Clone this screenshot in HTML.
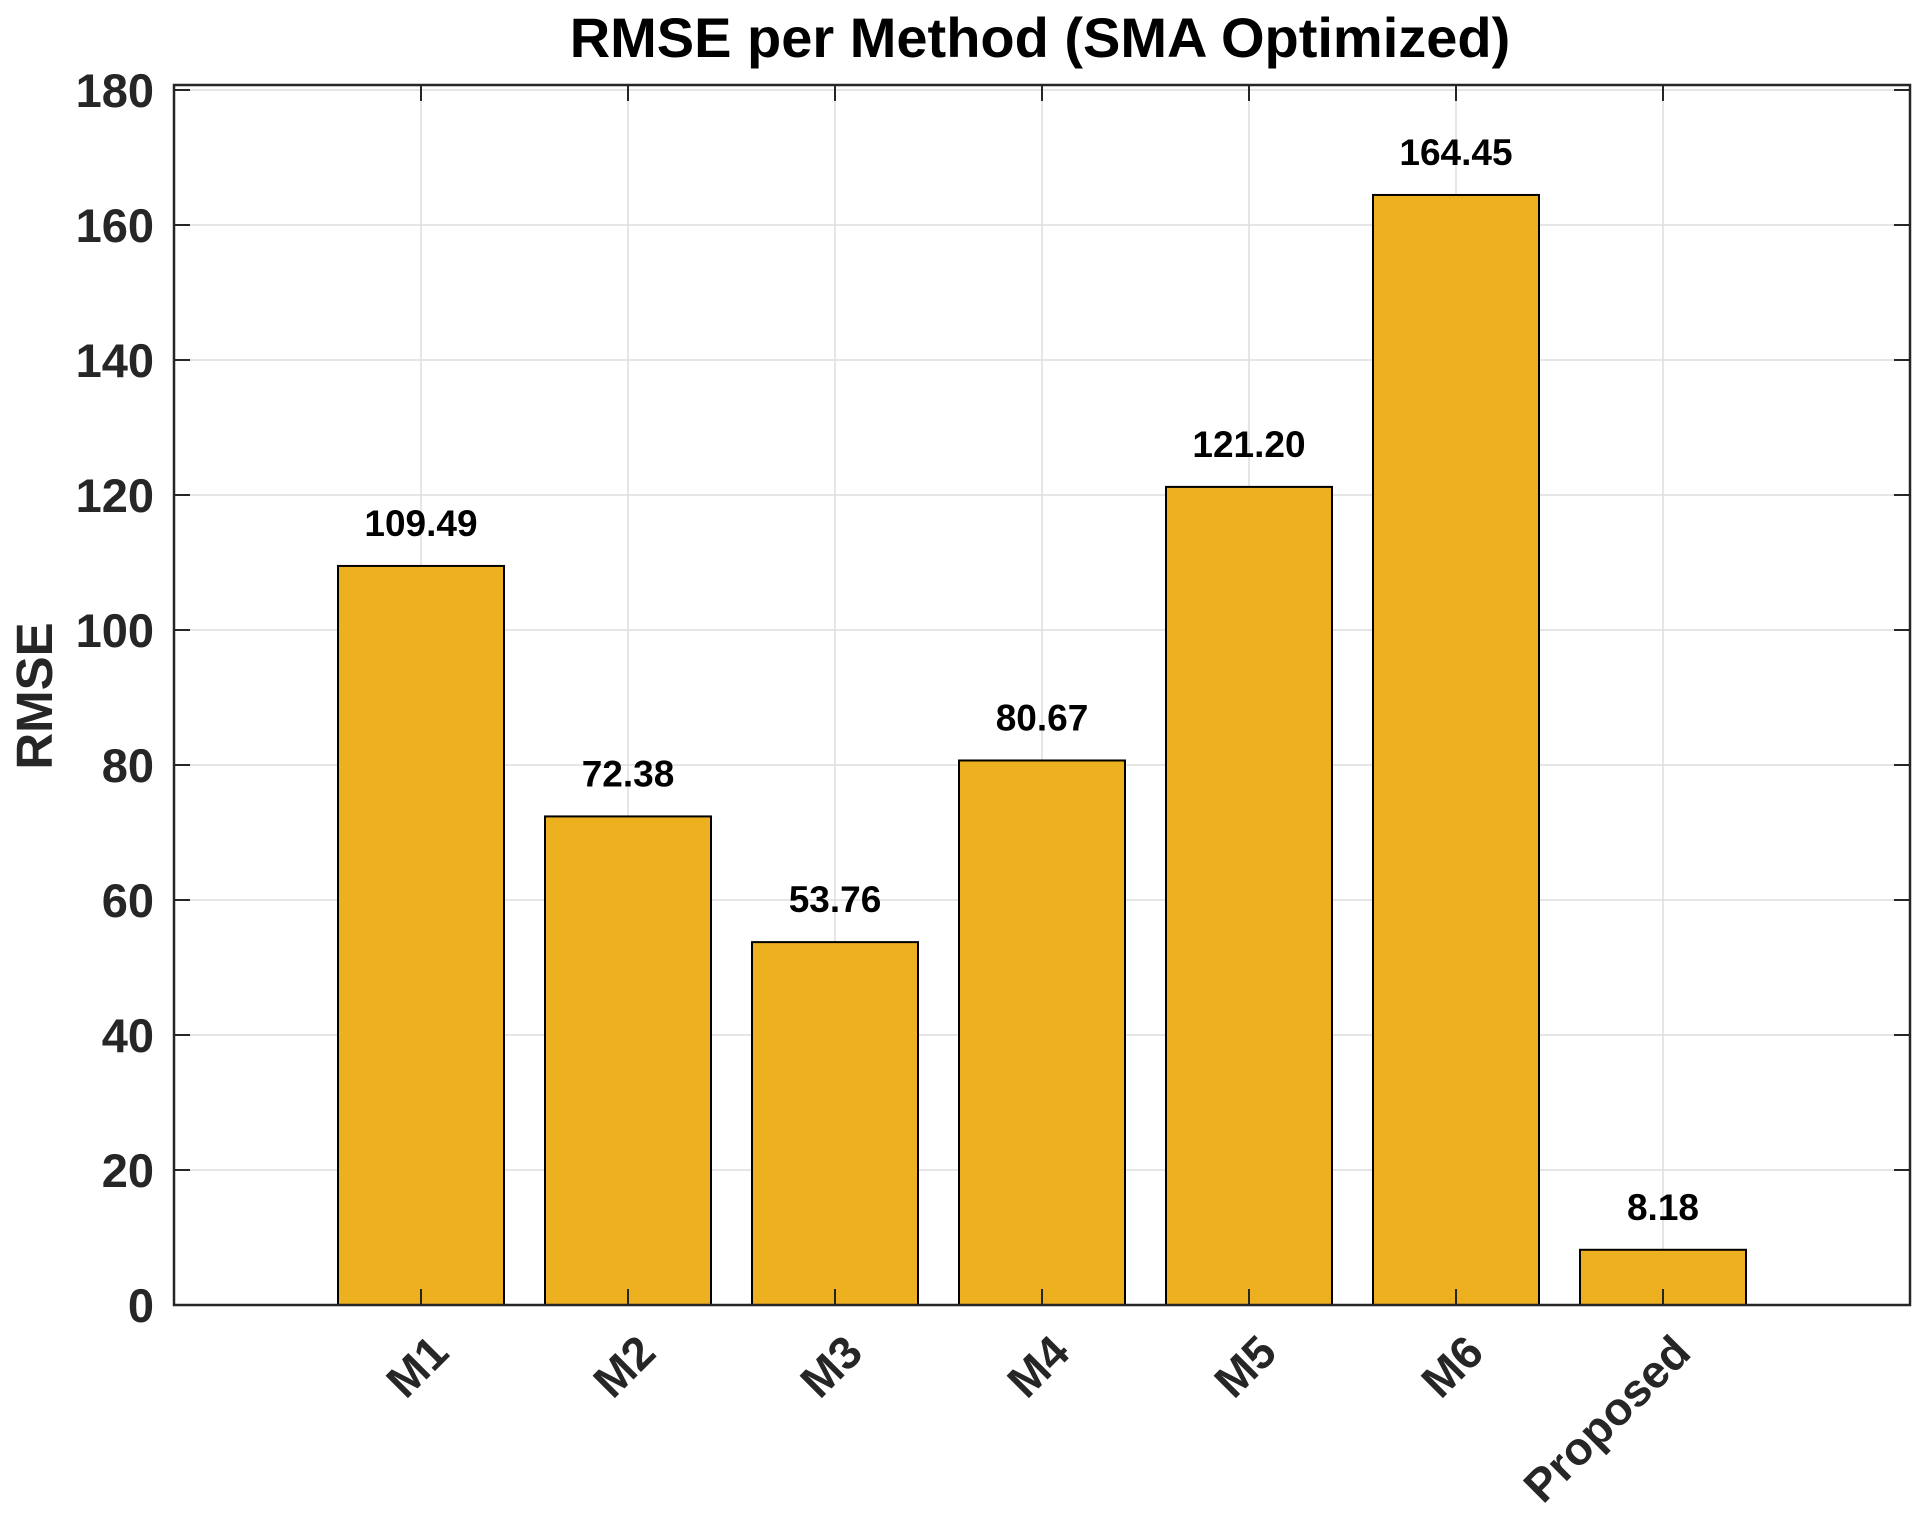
<!DOCTYPE html>
<html><head><meta charset="utf-8"><style>
html,body{margin:0;padding:0;background:#fff;}
svg{display:block;font-family:"Liberation Sans",Arial,sans-serif;}
</style></head><body>
<svg id="chart" width="1924" height="1530" viewBox="0 0 1924 1530" xmlns="http://www.w3.org/2000/svg">
<rect width="1924" height="1530" fill="#fff"/>
<text x="1040" y="57" text-anchor="middle" font-size="56" font-weight="bold" fill="#000">RMSE per Method (SMA Optimized)</text>
<text transform="translate(52,696) rotate(-90)" text-anchor="middle" font-size="51" font-weight="bold" fill="#262626">RMSE</text>
<g id="grid"></g>
<g id="bars"></g>
<g id="axes"></g>
</svg>
<script>
const categories = ["M1","M2","M3","M4","M5","M6","Proposed"];
const rmseValues = [109.49, 72.38, 53.76, 80.67, 121.20, 164.45, 8.18];
const valueLabels = ["109.49","72.38","53.76","80.67","121.20","164.45","8.18"];
const yTicks = [0,20,40,60,80,100,120,140,160,180];

const NS = "http://www.w3.org/2000/svg";
const L = 174, R = 1910, T = 85, B = 1305;
const yMax = 180, y180px = 90;
function y(v){ return B - (B - y180px) * v / yMax; }
const step = 207, firstCenter = 421;
function x(i){ return firstCenter + step * i; }
const barW = 166;

function mk(tag, attrs, parent){
  const e = document.createElementNS(NS, tag);
  for (const k in attrs) e.setAttribute(k, attrs[k]);
  parent.appendChild(e);
  return e;
}
const grid = document.getElementById('grid');
const bars = document.getElementById('bars');
const axes = document.getElementById('axes');

yTicks.forEach(t => {
  const gl = mk('line', {x1:L, x2:R, y1:y(t), y2:y(t), stroke:'#dedede', 'stroke-width':1.5}, grid);
  
  
  const tk = mk('line', {x1:L, x2:L+16, y1:y(t), y2:y(t), stroke:'#262626', 'stroke-width':2}, axes);
  
  
  const tk2 = mk('line', {x1:R, x2:R-16, y1:y(t), y2:y(t), stroke:'#262626', 'stroke-width':2}, axes);
  
  
  const lb = mk('text', {x:L-20, y:y(t)+17, 'text-anchor':'end', 'font-size':47, 'font-weight':'bold', fill:'#262626'}, axes);
  lb.textContent = t;
  
  
});

categories.forEach((c, i) => {
  const cx = x(i);
  const gl = mk('line', {x1:cx, x2:cx, y1:T, y2:B, stroke:'#dedede', 'stroke-width':1.5}, grid);
  
  
  const v = rmseValues[i];
  const r = mk('rect', {x:cx-barW/2, y:y(v), width:barW, height:B-y(v), fill:'#EDB120', stroke:'#000', 'stroke-width':2}, bars);
  
  
  const vl = mk('text', {x:cx, y:y(v)-30, 'text-anchor':'middle', 'font-size':37, 'font-weight':'bold', fill:'#000'}, bars);
  vl.textContent = valueLabels[i];
  
  
  const tk = mk('line', {x1:cx, x2:cx, y1:B, y2:B-16, stroke:'#262626', 'stroke-width':2}, axes);
  
  
  const tk2 = mk('line', {x1:cx, x2:cx, y1:T, y2:T+16, stroke:'#262626', 'stroke-width':2}, axes);
  
  
  const xl = mk('text', {transform:'translate(' + (cx+30) + ',' + (B+50) + ') rotate(-45)', 'text-anchor':'end', 'font-size':46, 'font-weight':'bold', fill:'#262626'}, axes);
  xl.textContent = c;
  
  
});

const frame = mk('rect', {x:L, y:T, width:R-L, height:B-T, fill:'none', stroke:'#262626', 'stroke-width':2.5}, axes);


</script>
</body></html>
